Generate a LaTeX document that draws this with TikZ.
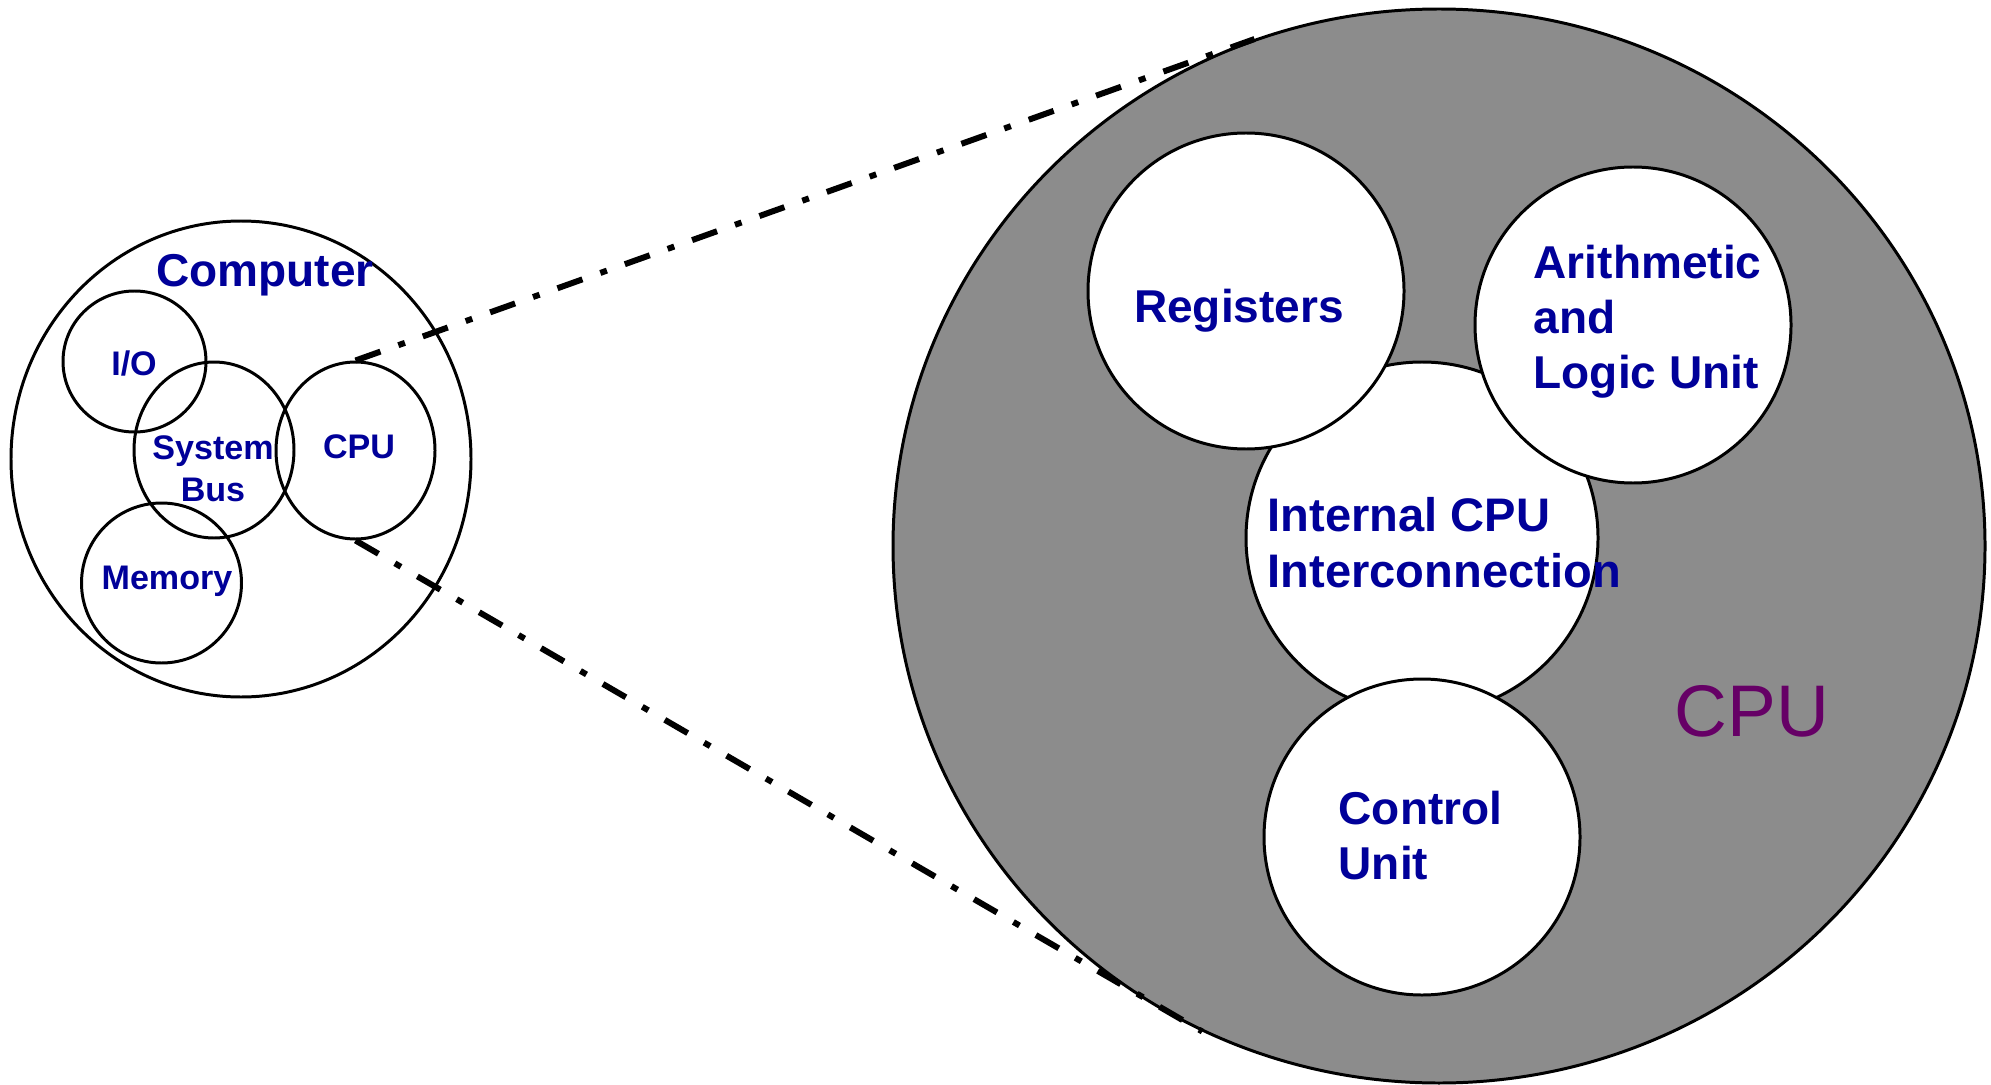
\documentclass[tikz,border=0pt]{standalone}
\usepackage{fontspec}
\setmainfont{Liberation Sans}
\usetikzlibrary{shapes.geometric}
\definecolor{labelblue}{RGB}{0,0,153}
\definecolor{cpupurple}{RGB}{102,0,102}
\definecolor{cpushade}{gray}{0.55}
\tikzstyle{part} = [draw=black, line width=0.85pt, ellipse, inner sep=0pt]
\tikzstyle{unit} = [part, fill=white]
\tikzstyle{lbl} = [text=labelblue, inner sep=0pt, font=\bfseries]
\tikzstyle{biglbl} = [lbl, align=left, anchor=west, font=\fontsize{13.1pt}{15.7pt}\selectfont\bfseries]
\tikzstyle{smalllbl} = [lbl, align=center, font=\fontsize{9.7pt}{12pt}\selectfont\bfseries]
\tikzstyle{zoomline} = [line width=1.7pt, dash pattern=on 2.65mm off 1.9mm on 0.7mm off 1.9mm]

\begin{document}
\begin{tikzpicture}[x=0.1mm, y=-0.1mm]
        \useasboundingbox (0,0) rectangle (1991,1085);
        % the whole machine
        \node[part, minimum width=46mm, minimum height=47.6mm](computer) at (241,459){};
        \node[part, minimum width=14.3mm, minimum height=14.1mm](io) at (134.5,361.5){};
        \node[part, minimum width=16mm, minimum height=17.6mm](sysbus) at (214,450){};
        \node[part, minimum width=15.9mm, minimum height=17.7mm](cpu) at (355.5,450.5){};
        \node[part, minimum width=16mm, minimum height=16mm](memory) at (161.5,583){};
        \node[lbl, font=\fontsize{13.1pt}{15.7pt}\selectfont\bfseries](computerlbl) at (265,275){Computer};
        \node[smalllbl](iolbl) at (134,363){I/O};
        \node[smalllbl](sysbuslbl) at (213,469){System\\Bus};
        \node[smalllbl](cpulbl) at (359,447){CPU};
        \node[smalllbl](memorylbl) at (167,581){Memory};
        % the processor blown up
        \node[part, fill=cpushade, minimum width=109.2mm, minimum height=107.4mm](cpubig) at (1439,546){};
        \node[unit, minimum width=35.2mm, minimum height=35.2mm](icpu) at (1422,538){};
        \node[unit, minimum width=31.6mm, minimum height=31.6mm](regs) at (1246,291){};
        \node[unit, minimum width=31.6mm, minimum height=31.6mm](alu) at (1633,325){};
        \node[unit, minimum width=31.6mm, minimum height=31.6mm](ctrl) at (1422,837){};
        \node[lbl, font=\fontsize{13.1pt}{15.7pt}\selectfont\bfseries](regslbl) at (1239,311){Registers};
        \node[biglbl](alulbl) at (1533,321.5){Arithmetic\\and\\Logic Unit};
        \node[biglbl, font=\fontsize{13.4pt}{15.9pt}\selectfont\bfseries](icpulbl) at (1267,542.5){Internal CPU\\Interconnection};
        \node[biglbl](ctrllbl) at (1338,835.5){Control\\Unit};
        \node[text=cpupurple, inner sep=0pt, font=\fontsize{20.8pt}{25pt}\selectfont](cpubiglbl) at (1752,711){CPU};
        \draw[zoomline](cpu.north)--(cpubig.110.6);
        \draw[zoomline](cpu.south)--(cpubig.244.7);
\end{tikzpicture}
\end{document}
